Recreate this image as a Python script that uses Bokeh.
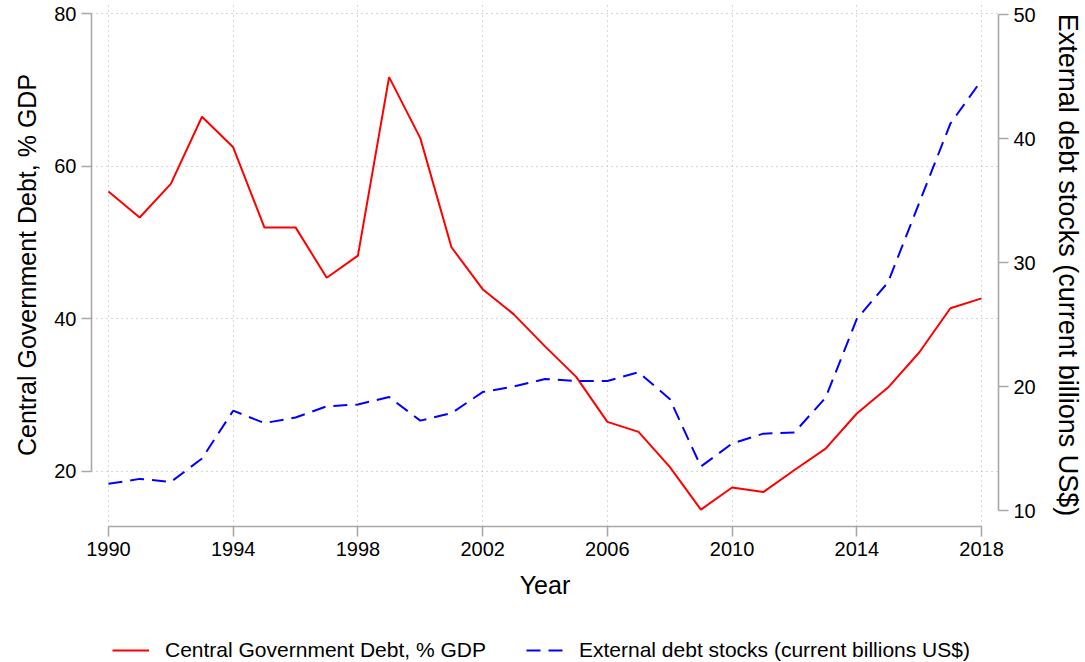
from bokeh.plotting import figure
from bokeh.layouts import column
from bokeh.models import Range1d, LinearAxis, FixedTicker, Legend, LegendItem
from bokeh.embed import file_html
from bokeh.resources import INLINE

years = list(range(1990, 2019))
central_gov_debt = [56.7, 53.3, 57.7, 66.5, 62.5, 52.0, 52.0, 45.4, 48.3, 71.7,
                    63.7, 49.4, 43.9, 40.6, 36.4, 32.4, 26.5, 25.2, 20.6, 15.0,
                    17.9, 17.3, 20.2, 23.0, 27.6, 31.0, 35.6, 41.4, 42.7]
external_debt = [12.15, 12.55, 12.3, 14.2, 18.05, 17.05, 17.5, 18.4, 18.55, 19.15,
                 17.25, 17.85, 19.55, 20.0, 20.6, 20.45, 20.45, 21.15, 19.0, 13.55,
                 15.4, 16.2, 16.3, 19.1, 25.45, 28.4, 34.8, 41.2, 44.7]
x_ticks = [1990, 1994, 1998, 2002, 2006, 2010, 2014, 2018]
left_ticks = [20, 40, 60, 80]
right_ticks = [10, 20, 30, 40, 50]
series_names = ["Central Government Debt, % GDP", "External debt stocks (current billions US$)"]

FONT = "Liberation Sans"
AXIS_GRAY = "#a8a8a8"
RED_STYLE = dict(line_color="red", line_width=2)
BLUE_STYLE = dict(line_color="blue", line_width=2, line_dash="14 8")

p = figure(width=1085, height=604, output_backend="svg", toolbar_location=None,
           x_range=Range1d(1989.456, 2018.544), y_range=Range1d(12.79, 81.35),
           min_border_left=91, min_border_right=85, min_border_top=3, min_border_bottom=78)
p.outline_line_color = None
p.background_fill_color = "white"
p.border_fill_color = "white"
p.extra_y_ranges = {"right": Range1d(8.71, 50.89)}

for g in (p.xgrid, p.ygrid):
    g.grid_line_color = "#b0b0b0"
    g.grid_line_dash = "1 4"
    g.grid_line_width = 1
p.xgrid.ticker = FixedTicker(ticks=x_ticks)
p.ygrid.ticker = FixedTicker(ticks=left_ticks)

def style_axis(ax, ticks, bounds):
    ax.ticker = FixedTicker(ticks=ticks)
    ax.bounds = bounds
    ax.axis_line_color = AXIS_GRAY
    ax.axis_line_width = 1.6
    ax.major_tick_line_color = AXIS_GRAY
    ax.major_tick_line_width = 1.6
    ax.major_tick_out = 10
    ax.major_tick_in = 0
    ax.minor_tick_line_color = None
    ax.major_label_text_font = FONT
    ax.major_label_text_font_size = "20px"
    ax.major_label_text_color = "black"
    ax.major_label_standoff = 5
    ax.axis_label_text_font = FONT
    ax.axis_label_text_font_size = "25px"
    ax.axis_label_text_font_style = "normal"
    ax.axis_label_text_color = "black"

xa = p.xaxis[0]
style_axis(xa, x_ticks, (1990, 2018))
xa.axis_label = "Year"
xa.axis_label_standoff = 12

ya = p.yaxis[0]
style_axis(ya, left_ticks, (20, 80))
ya.axis_label = series_names[0]
ya.axis_label_standoff = 10

ra = LinearAxis(y_range_name="right")
style_axis(ra, right_ticks, (10, 50))
ra.axis_label = series_names[1]
ra.axis_label_text_font_size = "27px"
ra.axis_label_standoff = 14
p.add_layout(ra, "right")

p.line(years, central_gov_debt, **RED_STYLE)
p.line(years, external_debt, y_range_name="right", **BLUE_STYLE)

# legend strip: key renderers reuse the data but lie outside this strip's ranges
lp = figure(width=1085, height=58, output_backend="svg", toolbar_location=None,
            x_range=Range1d(0, 1), y_range=Range1d(0, 1),
            x_axis_type=None, y_axis_type=None,
            min_border_left=91, min_border_right=85, min_border_top=0, min_border_bottom=0)
lp.outline_line_color = None
lp.grid.visible = False
k1 = lp.line(years, central_gov_debt, **RED_STYLE)
k2 = lp.line(years, external_debt, **BLUE_STYLE)
legend = Legend(items=[LegendItem(label=series_names[0], renderers=[k1]),
                       LegendItem(label=series_names[1], renderers=[k2])],
                orientation="horizontal", location=(21, 0),
                glyph_width=37, glyph_height=16, label_standoff=16, spacing=40,
                label_text_font=FONT, label_text_font_size="21px",
                border_line_color=None, background_fill_alpha=0,
                margin=0, padding=0)
legend.label_text_color = "black"
lp.add_layout(legend, "center")

layout = column(p, lp, spacing=0)
open("out.html", "w").write(file_html(layout, INLINE))
